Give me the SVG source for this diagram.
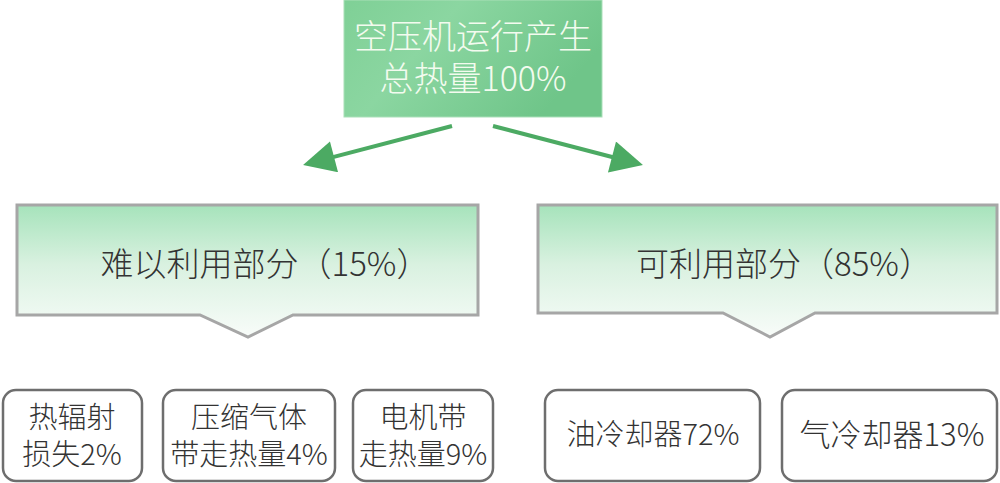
<svg xmlns="http://www.w3.org/2000/svg" width="1000" height="483" viewBox="0 0 1000 483">
<style>
text{font-family:"Noto Sans CJK SC","Liberation Sans",sans-serif;font-weight:300;text-anchor:middle}
.top{fill:#f3fbef;font-size:34px}
.mid{fill:#333;font-size:33px}
.leaf{fill:#333;font-size:29px}
.band{stroke:#a6a6a6;stroke-width:3;fill:url(#gMid)}
.box{fill:#fff;stroke:#6e6e6e;stroke-width:2.5}
.arrow{stroke:#4caa63;stroke-width:4;fill:none;marker-end:url(#ah)}
</style>
<defs>
<linearGradient id="gTop" x1="0" y1="0" x2="1" y2="0.4">
<stop offset="0" stop-color="#7fd096"/>
<stop offset="0.4" stop-color="#8bd6a1"/>
<stop offset="1" stop-color="#6fc589"/>
</linearGradient>
<linearGradient id="gMid" x1="0" y1="0" x2="0" y2="1">
<stop offset="0" stop-color="#a6e3bb"/>
<stop offset="0.45" stop-color="#d9f1e0"/>
<stop offset="1" stop-color="#f8fcf9"/>
</linearGradient>
<marker id="ah" viewBox="0 0 10 10" refX="3.75" refY="5" markerUnits="userSpaceOnUse" markerWidth="34" markerHeight="32" orient="auto">
<path d="M0,0 L10,5 L0,10 Z" fill="#4caa63"/>
</marker>
</defs>
<g id="top">
<rect x="344" y="0" width="258" height="117" fill="url(#gTop)" stroke="#a9dfb8" stroke-width="1"/>
<text class="top" x="473" y="49">空压机运行产生</text>
<text class="top" x="473" y="91">总热量100%</text>
</g>
<g id="connectors">
<path class="arrow" d="M452,126 L322.4,159.9"/>
<path class="arrow" d="M493,126 L623.6,160"/>
</g>
<g id="hard">
<path class="band" d="M17,205 H478 V315 H293 L248,337 L200,315 H17 Z"/>
<text class="mid" x="265" y="276">难以利用部分（15%）</text>
</g>
<g id="usable">
<path class="band" d="M538,205 H997 V313 H815 L770,337 L723,313 H538 Z"/>
<text class="mid" x="784" y="276">可利用部分（85%）</text>
</g>
<g id="leaf1">
<rect class="box" x="3" y="390" width="139" height="91" rx="13"/>
<text class="leaf" x="72" y="428">热辐射</text>
<text class="leaf" x="72" y="465">损失2%</text>
</g>
<g id="leaf2">
<rect class="box" x="163" y="390" width="172" height="91" rx="13"/>
<text class="leaf" x="249" y="428">压缩气体</text>
<text class="leaf" x="249" y="465">带走热量4%</text>
</g>
<g id="leaf3">
<rect class="box" x="353" y="390" width="140" height="91" rx="13"/>
<text class="leaf" x="423" y="428">电机带</text>
<text class="leaf" x="423" y="465">走热量9%</text>
</g>
<g id="leaf4">
<rect class="box" x="545" y="390" width="215" height="91" rx="13"/>
<text class="leaf" x="653" y="445">油冷却器72%</text>
</g>
<g id="leaf5">
<rect class="box" x="782" y="390" width="215" height="91" rx="13"/>
<text class="leaf" x="892" y="446" style="font-size:31px">气冷却器13%</text>
</g>
</svg>
